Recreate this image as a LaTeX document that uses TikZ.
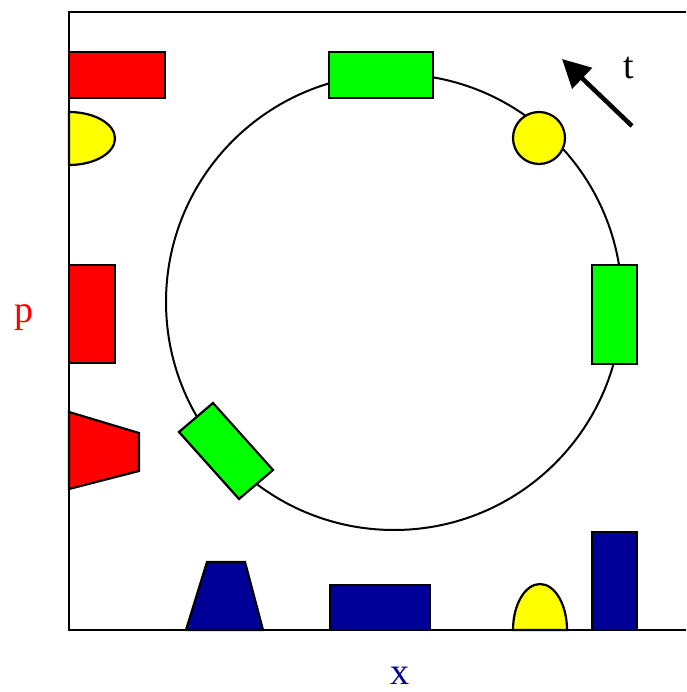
\documentclass[tikz,border=0pt]{standalone}
\usepackage{fontspec}
\setmainfont{Liberation Serif}
\usetikzlibrary{arrows.meta}
\definecolor{navy}{RGB}{0,0,153}
\definecolor{gr}{RGB}{0,255,0}
\definecolor{yel}{RGB}{255,255,0}
\definecolor{rd}{RGB}{255,0,0}
\begin{document}
\begin{tikzpicture}[x=1pt,y=-1pt,line join=miter,
  shp/.style={draw=black,line width=2.2pt},
  lbl/.style={font=\fontsize{38}{40}\selectfont,anchor=base,inner sep=0pt}]
\useasboundingbox (0,0) rectangle (686,692);
% frame
\draw[line width=2.2pt] (686,12) -- (69,12) -- (69,630) -- (686,630);
% circle
\draw[line width=2pt] (394,302) circle[radius=228];
% red shapes
\draw[shp,fill=rd] (69,52) rectangle (165,98);
\draw[shp,fill=rd] (69,265) rectangle (115,363);
\draw[shp,fill=rd] (69,412) -- (139,433) -- (139,471) -- (69,489) -- cycle;
% yellow shapes
\draw[shp,fill=yel] (69,165) arc[start angle=90,end angle=-90,x radius=46,y radius=26.5] -- cycle;
\draw[shp,fill=yel] (539,138) circle[radius=26];
\draw[shp,fill=yel] (513,630) arc[start angle=180,end angle=360,x radius=27,y radius=46] -- cycle;
% green shapes
\draw[shp,fill=gr] (329,52) rectangle (433,98);
\draw[shp,fill=gr] (592,265) rectangle (637,364);
\draw[shp,fill=gr] (179,432) -- (213,403) -- (273,470) -- (239,499) -- cycle;
% blue shapes
\draw[shp,fill=navy] (186,630) -- (207,562) -- (245,562) -- (263,630) -- cycle;
\draw[shp,fill=navy] (330,585) rectangle (430,630);
\draw[shp,fill=navy] (592,532) rectangle (637,630);
% arrow
\coordinate (ta) at (632,126);
\coordinate (tb) at (562,59);
\draw[line width=4.5pt,-{Triangle[length=28pt,width=28pt]}] (ta) -- (tb);
% labels
\node[lbl] (t) at (629,79) {t};
\node[lbl,text=rd] (p) at (24,322) {p};
\node[lbl,text=navy] (x) at (400,684) {x};
\end{tikzpicture}
\end{document}
